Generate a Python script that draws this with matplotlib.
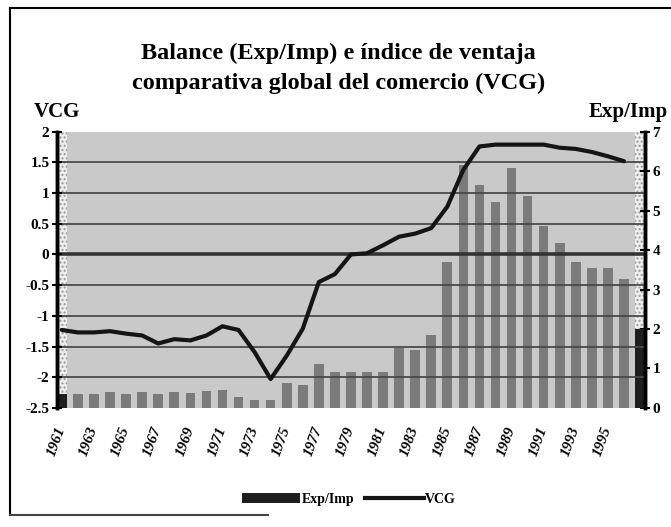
import numpy as np
import matplotlib.pyplot as plt
from matplotlib.lines import Line2D
from matplotlib.patches import Patch

# Data
years = list(range(1961, 1998))
exp_imp = [0.36, 0.34, 0.34, 0.40, 0.34, 0.40, 0.34, 0.40, 0.37, 0.42,
           0.46, 0.27, 0.19, 0.19, 0.63, 0.59, 1.12, 0.92, 0.90, 0.90,
           0.90, 1.52, 1.48, 1.86, 3.70, 6.15, 5.64, 5.22, 6.09, 5.37,
           4.62, 4.18, 3.70, 3.55, 3.54, 3.28, 2.00]
vcg_years = list(range(1961, 1997))
vcg = [-1.23, -1.27, -1.27, -1.25, -1.29, -1.32, -1.45, -1.38, -1.40, -1.32,
       -1.17, -1.23, -1.59, -2.03, -1.65, -1.21, -0.45, -0.32, 0.00, 0.02,
       0.15, 0.29, 0.34, 0.43, 0.78, 1.38, 1.76, 1.79, 1.79, 1.79,
       1.79, 1.74, 1.72, 1.67, 1.60, 1.52]
vcg_ticks = [-2.5, -2, -1.5, -1, -0.5, 0, 0.5, 1, 1.5, 2]
vcg_tick_labels = ['-2.5', '-2', '-1.5', '-1', '-0.5', '0', '0.5', '1', '1.5', '2']
ratio_ticks = [0, 1, 2, 3, 4, 5, 6, 7]
label_years = list(range(1961, 1997, 2))

TITLE = 'Balance (Exp/Imp) e índice de ventaja\ncomparativa global del comercio (VCG)'

plt.rcParams['font.family'] = ['Liberation Serif', 'DejaVu Serif']
plt.rcParams['font.weight'] = 'bold'
plt.rcParams['hatch.color'] = '#9a9a9a'

fig = plt.figure(figsize=(6.71, 5.27), dpi=100)
fig.patch.set_facecolor('white')

# outer frame (left, top, bottom)
fig.add_artist(Line2D([0.015, 0.015], [0.023, 0.985], color='black', lw=1.5,
                      transform=fig.transFigure))
fig.add_artist(Line2D([0.015, 1.0], [0.985, 0.985], color='black', lw=1.5,
                      transform=fig.transFigure))
fig.add_artist(Line2D([0.015, 0.40], [0.023, 0.023], color='#444444', lw=1.5,
                      transform=fig.transFigure))

w = 0.6
ax2 = fig.add_axes([0.085, 0.226, 0.876, 0.524])  # bars, right axis
ax = ax2.twinx()
ax.yaxis.tick_left()
ax.yaxis.set_label_position('left')
ax2.yaxis.tick_right()
ax2.yaxis.set_label_position('right')

ax2.set_facecolor('#c9c9c9')
ax.set_zorder(ax2.get_zorder() + 1)
ax.patch.set_visible(False)

x0, x1 = years[0] - w / 2, years[-1] + w / 2
ax2.set_xlim(x0, x1)
ax.set_xlim(x0, x1)

# light dotted columns at both ends
for yr in (years[0], years[-1]):
    ax2.axvspan(yr - w / 2, yr + w / 2, facecolor='#eeeeee', hatch='....',
                edgecolor='#999999', lw=0, zorder=1)

colors = ['#7b7b7b'] * len(years)
colors[0] = '#1e1e1e'
colors[-1] = '#1e1e1e'
ax2.bar(years, exp_imp, width=w, color=colors, edgecolor='none', zorder=2)
ax2.set_ylim(0, 7)
ax2.set_yticks(ratio_ticks)
ax2.set_yticklabels([str(t) for t in ratio_ticks], fontsize=11, fontweight='bold')

# gridlines and VCG line on top
for t in vcg_ticks[1:-1]:
    ax.axhline(t, color='#4a4a4a' if t != 0 else '#333333',
               lw=1.3 if t != 0 else 2.6, zorder=1)
ax.plot(vcg_years, vcg, color='#151515', lw=3, zorder=3, solid_capstyle='round')
ax.set_ylim(-2.5, 2)
ax.set_yticks(vcg_ticks)
ax.set_yticklabels(vcg_tick_labels, fontsize=11, fontweight='bold')

for a in (ax, ax2):
    a.spines['top'].set_visible(False)
    a.spines['bottom'].set_visible(False)
    a.spines['left'].set_linewidth(2.5)
    a.spines['right'].set_linewidth(2.5)
    a.tick_params(axis='y', direction='inout', length=7, width=1.5, pad=2)
ax.tick_params(axis='y', labelright=False)
ax2.tick_params(axis='y', labelleft=False)

ax.set_xticks([])
ax2.set_xticks(label_years)
ax2.set_xticklabels([str(y) for y in label_years], rotation=70, ha='right',
                    va='center', rotation_mode='anchor', fontsize=11,
                    fontstyle='italic', fontweight='bold')
ax2.tick_params(axis='x', length=0, pad=14)

fig.text(0.504, 0.87, TITLE, ha='center', va='center', fontsize=17.5,
         fontweight='bold', linespacing=1.5)
fig.text(0.05, 0.787, 'VCG', ha='left', va='center', fontsize=15, fontweight='bold')
fig.text(0.995, 0.787, 'Exp/Imp', ha='right', va='center', fontsize=15,
         fontweight='bold')

handles = [Patch(facecolor='#1e1e1e', edgecolor='none'),
           Line2D([], [], color='#151515', lw=3)]
fig.legend(handles, ['Exp/Imp', 'VCG'], loc='center', bbox_to_anchor=(0.52, 0.052),
           ncol=2, frameon=False, handlelength=4.2, handletextpad=0.1,
           columnspacing=0.8, prop={'size': 10, 'weight': 'bold'})

fig.savefig('out.png', dpi=100, facecolor='white')
